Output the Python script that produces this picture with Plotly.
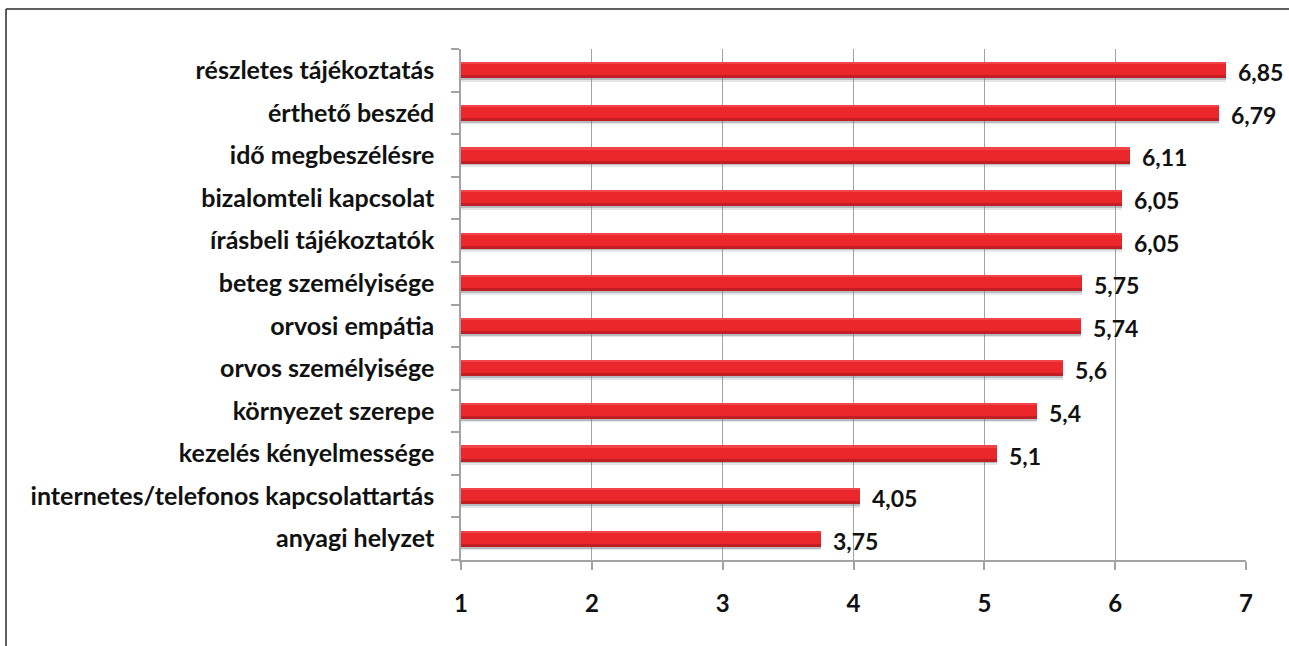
import plotly.graph_objects as go

# Categories listed bottom to top
categories = [
    "anyagi helyzet",
    "internetes/telefonos kapcsolattartás",
    "kezelés kényelmessége",
    "környezet szerepe",
    "orvos személyisége",
    "orvosi empátia",
    "beteg személyisége",
    "írásbeli tájékoztatók",
    "bizalomteli kapcsolat",
    "idő megbeszélésre",
    "érthető beszéd",
    "részletes tájékoztatás",
]
values = [3.75, 4.05, 5.1, 5.4, 5.6, 5.74, 5.75, 6.05, 6.05, 6.11, 6.79, 6.85]
x_ticks = [1, 2, 3, 4, 5, 6, 7]

FONT = "Lato"
RED = "#EC272C"
RED_DARK = "#C21F25"

fig = go.Figure()

# soft drop shadow under each bar
fig.add_trace(go.Bar(
    y=categories, x=values, orientation="h",
    width=0.08, offset=-0.27,
    marker=dict(color="rgba(120,130,140,0.20)", line=dict(width=0)),
    hoverinfo="skip", showlegend=False,
))
fig.add_trace(go.Bar(
    y=categories, x=values, orientation="h",
    width=0.04, offset=-0.23,
    marker=dict(color="rgba(90,100,110,0.32)", line=dict(width=0)),
    hoverinfo="skip", showlegend=False,
))
# main bar body
fig.add_trace(go.Bar(
    y=categories, x=values, orientation="h",
    width=0.38, offset=-0.19,
    marker=dict(color=RED, line=dict(width=0)),
    showlegend=False,
))
# darker lower edge for a rounded look
fig.add_trace(go.Bar(
    y=categories, x=values, orientation="h",
    width=0.07, offset=-0.19,
    marker=dict(color=RED_DARK, line=dict(width=0)),
    hoverinfo="skip", showlegend=False,
))
# lighter upper highlight
fig.add_trace(go.Bar(
    y=categories, x=values, orientation="h",
    width=0.05, offset=0.14,
    marker=dict(color="#F04448", line=dict(width=0)),
    hoverinfo="skip", showlegend=False,
))


def fmt(v):
    return f"{v:g}".replace(".", ",")


for cat, v in zip(categories, values):
    fig.add_annotation(
        x=v, y=cat, xref="x", yref="y",
        text=fmt(v), showarrow=False,
        xanchor="left", yanchor="middle", xshift=10, yshift=-2,
        font=dict(family=FONT, size=23, color="#111111", weight="bold"),
    )

# outer frame (left and top edges)
fig.add_shape(type="line", xref="paper", yref="paper",
              x0=-0.5796, x1=-0.5796, y0=-0.2, y1=1.0783,
              line=dict(color="#2a2a2a", width=1.5))
fig.add_shape(type="line", xref="paper", yref="paper",
              x0=-0.5796, x1=1.06, y0=1.0783, y1=1.0783,
              line=dict(color="#2a2a2a", width=1.5))

fig.update_layout(
    width=1289, height=646,
    margin=dict(l=461, r=43, t=49, b=86),
    paper_bgcolor="white", plot_bgcolor="white",
    barmode="overlay", bargap=0,
    font=dict(family=FONT, color="#111111"),
    xaxis=dict(
        range=[1, 7], tickvals=x_ticks, ticktext=[str(t) for t in x_ticks],
        showgrid=True, gridcolor="#A3A3A3", gridwidth=1,
        showline=True, linecolor="#A3A3A3", linewidth=1.5,
        ticks="outside", ticklen=8, tickcolor="#A3A3A3", tickwidth=1.5,
        ticklabelstandoff=13,
        tickfont=dict(family=FONT, size=24, color="#111111", weight="bold"),
        zeroline=False, fixedrange=True,
    ),
    yaxis=dict(
        type="category", categoryorder="array", categoryarray=categories,
        showline=True, linecolor="#A3A3A3", linewidth=1.5,
        ticks="outside", ticklen=8, tickcolor="#A3A3A3", tickwidth=1.5,
        tickson="boundaries", showgrid=False,
        ticklabelstandoff=20,
        tickfont=dict(family=FONT, size=25, color="#111111", weight="bold"),
        fixedrange=True,
    ),
)

fig.write_html("out.html")
